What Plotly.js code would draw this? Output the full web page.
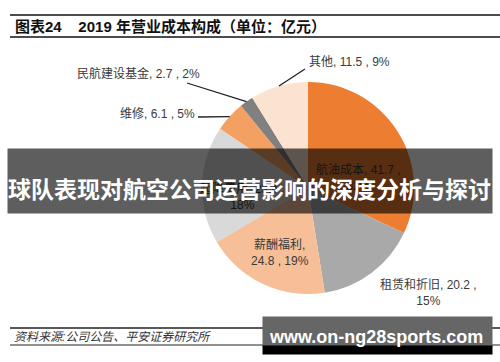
<!DOCTYPE html>
<html><head><meta charset="utf-8">
<script src="https://cdn.plot.ly/plotly-3.0.1.min.js"></script>
<style>html,body{margin:0;padding:0;background:#fff}#chart{width:500px;height:362px}</style>
</head><body><div id="chart"></div>
<script>
// ---- data ----
const categories = ['航油成本','租赁和折旧','薪酬福利','起降费用','维修','民航建设基金','其他'];
const costValues = [41.7, 20.2, 24.8, 23.4, 6.1, 2.7, 11.5];
const percentLabels = ['32%','15%','19%','18%','5%','2%','9%'];
const sliceColors = ['#ED7D31','#A9A9A9','#F7BF97','#D9D9D9','#F3A062','#808080','#FCE3D1'];
const titleText = '图表24&nbsp;&nbsp;&nbsp;&nbsp;2019 年营业成本构成（单位：亿元）';
const sourceText = '资料来源:公司公告、平安证券研究所';
const bannerText = '球队表现对航空公司运营影响的深度分析与探讨';
const watermarkText = 'www.on-ng28sports.com';

// ---- layout geometry ----
const W = 500, H = 362;
const CX = 308, CY = 188, R = 106;
const px = x => x / W, py = y => 1 - y / H;
const FONT = 'Liberation Sans, Arial, Noto Sans CJK SC, sans-serif';
const total = costValues.reduce((a, b) => a + b, 0);

function edgePoint(i) {
  let before = 0;
  for (let k = 0; k < i; k++) before += costValues[k];
  const a = (before + costValues[i] / 2) / total * 2 * Math.PI;
  return [CX + R * Math.sin(a), CY - R * Math.cos(a)];
}
function labelText(i, style) {
  const n = categories[i], v = costValues[i], p = percentLabels[i];
  if (style === 'brPct') return n + ', ' + v + ' ,<br>' + p;
  if (style === 'brName') return n + ',<br>' + v + ' , ' + p;
  return n + ', ' + v + ' , ' + p;
}

// label placements: [index, x, y, xanchor, style]
const labelPlaces = [
  [0, 358, 177, 'center', 'brPct'],
  [1, 428, 292, 'center', 'brPct'],
  [2, 280, 252, 'center', 'brName'],
  [3, 242, 197, 'center', 'brPct'],
  [4, 197, 113, 'right', 'one'],
  [5, 202, 73, 'right', 'one'],
  [6, 307, 62, 'left', 'one']
];
// leader lines: [index, startX, startY]
const leaders = [[6, 305, 69], [5, 187, 83], [4, 198, 117]];

const annotations = labelPlaces.map(([i, x, y, xa, st]) => ({
  x: px(x), y: py(y), xref: 'paper', yref: 'paper', xanchor: xa, yanchor: 'middle',
  text: labelText(i, st), showarrow: false, align: 'center',
  font: {family: FONT, size: 12, color: '#3a3a3a'}
}));

// title + source
annotations.push({x: px(13), y: py(27), xref: 'paper', yref: 'paper', xanchor: 'left', yanchor: 'middle',
  text: '<b>' + titleText + '</b>', showarrow: false, font: {family: FONT, size: 15, color: '#111'}});
annotations.push({x: px(12), y: py(337), xref: 'paper', yref: 'paper', xanchor: 'left', yanchor: 'middle',
  text: '<i>' + sourceText + '</i>', showarrow: false, font: {family: FONT, size: 12, color: '#333'}});

// banner overlay
annotations.push({x: px(250), y: py(181), xref: 'paper', yref: 'paper', xanchor: 'center', yanchor: 'middle',
  text: '&nbsp;', showarrow: false, width: 484, height: 64, borderpad: 0, bgcolor: 'rgba(0,0,0,0.63)'});
annotations.push({x: px(249), y: py(188), xref: 'paper', yref: 'paper', xanchor: 'center', yanchor: 'middle',
  text: '<b>' + bannerText + '</b>', showarrow: false,
  font: {family: 'Noto Sans CJK SC, sans-serif', size: 23, color: '#fff'}});

// watermark
annotations.push({x: px(262), y: py(316), xref: 'paper', yref: 'paper', xanchor: 'left', yanchor: 'top',
  text: '&nbsp;', showarrow: false, width: 229, height: 29, borderpad: 0, bgcolor: '#666666'});
annotations.push({x: px(262), y: py(345), xref: 'paper', yref: 'paper', xanchor: 'left', yanchor: 'top',
  text: '&nbsp;', showarrow: false, width: 229, height: 8, borderpad: 0, bgcolor: '#000000'});
annotations.push({x: px(376), y: py(337), xref: 'paper', yref: 'paper', xanchor: 'center', yanchor: 'middle',
  text: '<b>' + watermarkText + '</b>', showarrow: false,
  font: {family: 'Liberation Sans, Arial, sans-serif', size: 18, color: '#fff'}});

const shapes = [
  {type: 'line', xref: 'paper', yref: 'paper', x0: px(10), x1: 1, y0: py(15), y1: py(15), line: {color: '#111', width: 1.5}},
  {type: 'line', xref: 'paper', yref: 'paper', x0: px(10), x1: 1, y0: py(37), y1: py(37), line: {color: '#111', width: 1.5}},
  {type: 'line', xref: 'paper', yref: 'paper', x0: px(10), x1: 1, y0: py(328), y1: py(328), line: {color: '#222', width: 1.3}},
  {type: 'line', xref: 'paper', yref: 'paper', x0: px(10), x1: 1, y0: py(345), y1: py(345), line: {color: '#222', width: 1}}
];
leaders.forEach(([i, sx, sy]) => {
  const [ex, ey] = edgePoint(i);
  shapes.push({type: 'line', xref: 'paper', yref: 'paper', x0: px(sx), y0: py(sy), x1: px(ex), y1: py(ey),
    line: {color: '#222', width: 1.3}});
});

const trace = {
  type: 'pie', labels: categories, values: costValues, sort: false, direction: 'clockwise', rotation: 0,
  marker: {colors: sliceColors, line: {width: 0}}, textinfo: 'none', hoverinfo: 'skip',
  domain: {x: [px(CX - R), px(CX + R)], y: [py(CY + R), py(CY - R)]}, showlegend: false
};

Plotly.newPlot('chart', [trace], {
  width: W, height: H, margin: {l: 0, r: 0, t: 0, b: 0},
  paper_bgcolor: '#fff', plot_bgcolor: '#fff', showlegend: false,
  annotations: annotations, shapes: shapes
}, {staticPlot: true, displayModeBar: false});
</script></body></html>
